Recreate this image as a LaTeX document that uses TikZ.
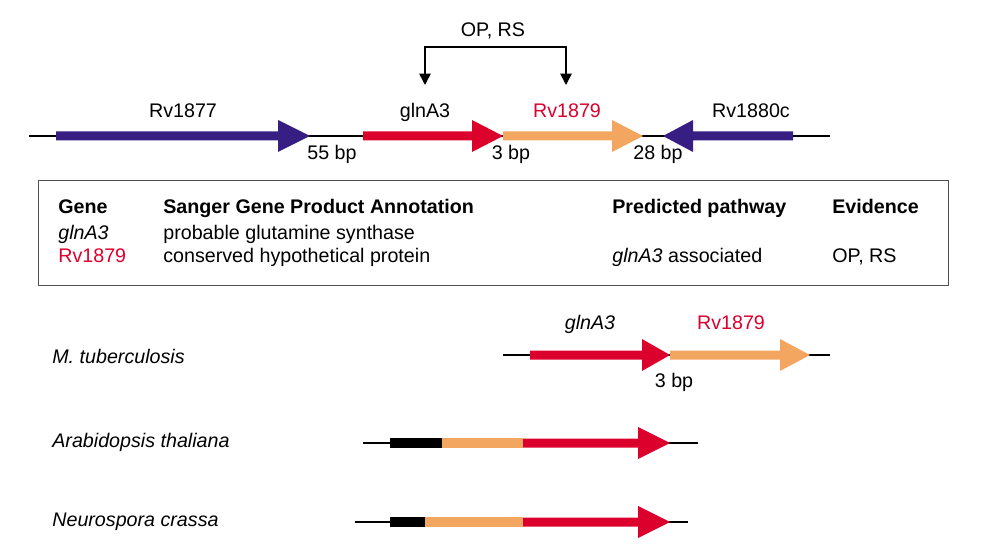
\documentclass[tikz,border=0pt]{standalone}
\usepackage{fontspec}
\setmainfont{Liberation Sans}
\usetikzlibrary{arrows.meta,positioning}
\definecolor{genepurple}{RGB}{55,30,130}
\definecolor{genered}{RGB}{220,0,45}
\definecolor{geneorange}{RGB}{242,166,96}
\definecolor{boxgray}{RGB}{80,80,80}

% gene arrow: start, head base, tip, y, colour
\newcommand{\genearrow}[5]{\fill[#5] (#1,#4-4.5) -- (#2,#4-4.5) -- (#2,#4-16) -- (#3,#4) -- (#2,#4+16) -- (#2,#4+4.5) -- (#1,#4+4.5) -- cycle;}
% plain gene segment: start, end, y, colour
\newcommand{\genebar}[4]{\fill[#4] (#1,#3-4.8) rectangle (#2,#3+4.8);}

\begin{document}
\begin{tikzpicture}[
  x=0.02cm, y=-0.02cm,
  lbl/.style={anchor=base, inner sep=0pt, font=\fontsize{11.2}{13}\selectfont},
  cell/.style={anchor=base west, inner sep=0pt, font=\fontsize{11.2}{13}\selectfont},
  head/.style={cell, font=\fontsize{11.2}{13}\selectfont\bfseries},
  dna/.style={line width=0.6pt, black},
  bracket/.style={line width=0.9pt, -{Triangle[width=6.5pt,length=6.5pt]}}
]
\useasboundingbox (0,0) rectangle (1000,560);

% Top locus
\draw[dna] (29,136) -- (830,136);
\genearrow{56}{278}{310}{136}{genepurple}
\genearrow{363}{472}{503}{136}{genered}
\genearrow{503}{612}{643}{136}{geneorange}
\genearrow{793}{693}{663}{136}{genepurple}

\node[lbl] (rv1877) at (183,118) {Rv1877};
\node[lbl] (glna) at (425,118) {glnA3};
\node[lbl, text=genered] (rv1879) at (567,118) {Rv1879};
\node[lbl] (rv1880) at (751,118) {Rv1880c};
\node[lbl] (gapa) at (332,160) {55 bp};
\node[lbl] (gapb) at (511,160) {3 bp};
\node[lbl] (gapc) at (658,160) {28 bp};

% Operon bracket
\node[lbl] (oprs) at (493,37) {OP, RS};
\coordinate (brL) at (425,47);
\coordinate (brR) at (566,47);
\coordinate (tipL) at (425,85);
\coordinate (tipR) at (566,85);
\draw[bracket] (brR) -- (brL) -- (tipL);
\draw[bracket] (brL) -- (brR) -- (tipR);

% Annotation table
\node[draw=boxgray, line width=0.8pt, inner sep=0pt, minimum width=910*0.02cm, minimum height=105*0.02cm, anchor=north west] (tbl) at (38,180) {};
\node[head] (hgene) at (58,214) {Gene};
\node[head] (hanno) at (163,214) {Sanger Gene Product Annotation};
\node[head] (hpath) at (612,214) {Predicted pathway};
\node[head] (hevid) at (832,214) {Evidence};
\node[cell] (cgln) at (58,240) {\itshape glnA3};
\node[cell] (agln) at (163,240) {probable glutamine synthase};
\node[cell, text=genered] (crv) at (58,263) {Rv1879};
\node[cell] (arv) at (163,263) {conserved hypothetical protein};
\node[cell] (prv) at (612,263) {\itshape glnA3\upshape{} associated};
\node[cell] (erv) at (832,263) {OP, RS};

% Species comparison
\node[cell] (mtb) at (52,363) {\itshape M. tuberculosis};
\node[cell] (ath) at (52,447) {\itshape Arabidopsis thaliana};
\node[cell] (ncr) at (52,526) {\itshape Neurospora crassa};

\draw[dna] (503,355) -- (830,355);
\genearrow{530}{642}{670}{355}{genered}
\genearrow{670}{780}{810}{355}{geneorange}
\node[lbl] (mgln) at (590,330) {\itshape glnA3};
\node[lbl, text=genered] (mrv) at (731,330) {Rv1879};
\node[lbl] (mgap) at (674,387) {3 bp};

\draw[dna] (363,443) -- (698,443);
\genebar{390}{442}{443}{black}
\genebar{442}{523}{443}{geneorange}
\genearrow{523}{638}{670}{443}{genered}

\draw[dna] (355,522) -- (688,522);
\genebar{390}{425}{522}{black}
\genebar{425}{523}{522}{geneorange}
\genearrow{523}{638}{670}{522}{genered}

\end{tikzpicture}
\end{document}
